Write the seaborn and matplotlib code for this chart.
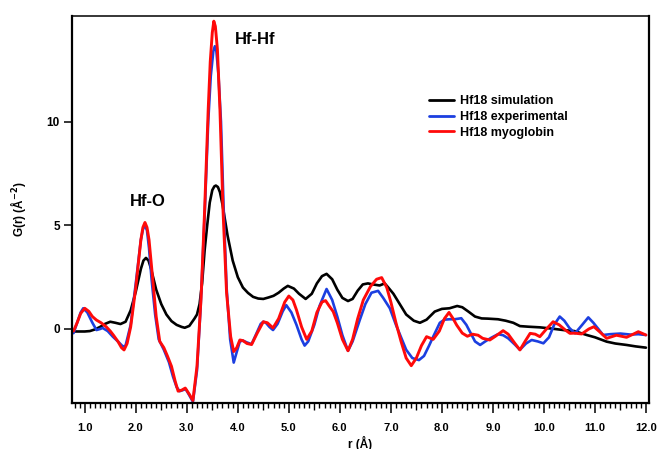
import numpy as np
import pandas as pd
import matplotlib
matplotlib.use("Agg")
import matplotlib.pyplot as plt
from matplotlib.ticker import MultipleLocator, FixedLocator
import seaborn as sns

# ---- data ----
r_sim = [0.78, 0.9, 1.0, 1.1, 1.2, 1.3, 1.4, 1.5, 1.6, 1.7, 1.8, 1.9, 2.0, 2.1, 2.15, 2.2,
         2.25, 2.3, 2.4, 2.5, 2.6, 2.7, 2.8, 2.9, 2.96, 3.05, 3.15, 3.2, 3.25, 3.3, 3.35,
         3.4, 3.45, 3.5, 3.54, 3.57, 3.61, 3.65, 3.7, 3.8, 3.9, 4.0, 4.1, 4.2, 4.3, 4.4, 4.5,
         4.6, 4.7, 4.8, 4.9, 4.98, 5.1, 5.2, 5.33, 5.45, 5.55, 5.65, 5.74, 5.85, 5.95, 6.05,
         6.16, 6.25, 6.35, 6.45, 6.55, 6.65, 6.78, 6.88, 6.95, 7.05, 7.15, 7.3, 7.45, 7.57,
         7.7, 7.86, 8.0, 8.15, 8.3, 8.4, 8.52, 8.65, 8.78, 8.9, 9.1, 9.25, 9.4, 9.53, 9.7,
         9.92, 10.15, 10.38, 10.6, 10.84, 11.0, 11.23, 11.4, 11.62, 11.8, 12.0]
g_sim = [-0.12, -0.12, -0.12, -0.1, -0.02, 0.1, 0.25, 0.35, 0.3, 0.24, 0.35, 0.9, 1.8, 2.9,
         3.3, 3.43, 3.3, 2.9, 1.9, 1.2, 0.7, 0.38, 0.2, 0.1, 0.06, 0.15, 0.5, 0.7, 1.2, 2.2,
         3.8, 5.0, 6.1, 6.7, 6.88, 6.92, 6.85, 6.6, 6.0, 4.5, 3.3, 2.5, 2.0, 1.74, 1.55,
         1.47, 1.45, 1.52, 1.6, 1.75, 1.95, 2.08, 1.95, 1.7, 1.45, 1.7, 2.2, 2.55, 2.66, 2.4,
         1.9, 1.5, 1.35, 1.45, 1.85, 2.15, 2.2, 2.15, 2.1, 2.2, 2.0, 1.7, 1.3, 0.7, 0.4, 0.3,
         0.45, 0.84, 0.97, 1.0, 1.11, 1.05, 0.84, 0.6, 0.51, 0.5, 0.47, 0.4, 0.3, 0.14, 0.11,
         0.08, 0.02, -0.05, -0.1, -0.29, -0.4, -0.61, -0.7, -0.77, -0.84, -0.9]

r_exp = [0.78, 0.85, 0.92, 0.97, 1.05, 1.15, 1.23, 1.3, 1.35, 1.45, 1.55, 1.65, 1.75, 1.8,
         1.9, 2.0, 2.1, 2.14, 2.18, 2.22, 2.26, 2.31, 2.38, 2.45, 2.55, 2.65, 2.73, 2.8, 2.86,
         2.92, 2.98, 3.05, 3.12, 3.2, 3.27, 3.35, 3.42, 3.47, 3.52, 3.55, 3.58, 3.62, 3.67,
         3.72, 3.78, 3.85, 3.92, 3.98, 4.04, 4.1, 4.18, 4.27, 4.35, 4.45, 4.5, 4.55, 4.62,
         4.69, 4.78, 4.88, 4.95, 5.05, 5.15, 5.25, 5.31, 5.38, 5.5, 5.6, 5.74, 5.85, 5.95,
         6.05, 6.16, 6.25, 6.39, 6.5, 6.62, 6.75, 6.85, 6.98, 7.1, 7.2, 7.3, 7.42, 7.55, 7.65,
         7.75, 7.83, 7.96, 8.05, 8.15, 8.25, 8.38, 8.48, 8.55, 8.65, 8.75, 8.85, 8.97, 9.1,
         9.2, 9.3, 9.43, 9.53, 9.65, 9.76, 9.88, 9.99, 10.1, 10.2, 10.31, 10.4, 10.5, 10.61,
         10.75, 10.87, 10.97, 11.1, 11.16, 11.3, 11.5, 11.7, 11.85, 12.0]
g_exp = [-0.2, 0.3, 0.8, 1.0, 0.8, 0.3, -0.05, 0.0, 0.05, -0.1, -0.37, -0.6, -0.85, -0.8,
         0.2, 2.2, 4.3, 4.8, 5.02, 4.75, 3.9, 2.4, 0.7, -0.5, -1.0, -1.6, -2.3, -2.8, -3.0,
         -2.95, -2.9, -3.2, -3.51, -2.0, 1.0, 5.5, 10.0, 12.2, 13.4, 13.64, 13.4, 12.3, 10.0,
         6.0, 2.0, -0.5, -1.62, -1.1, -0.6, -0.56, -0.65, -0.73, -0.3, 0.25, 0.35, 0.3, 0.1,
         -0.05, 0.25, 0.85, 1.15, 0.8, 0.2, -0.5, -0.8, -0.6, 0.2, 1.1, 1.93, 1.4, 0.6, -0.3,
         -1.05, -0.6, 0.43, 1.2, 1.75, 1.84, 1.5, 1.0, 0.2, -0.4, -1.0, -1.4, -1.5, -1.3, -0.8,
         -0.37, 0.3, 0.45, 0.47, 0.47, 0.52, 0.2, -0.13, -0.6, -0.77, -0.6, -0.42, -0.25,
         -0.3, -0.45, -0.75, -1.0, -0.7, -0.53, -0.6, -0.69, -0.4, 0.2, 0.6, 0.4, 0.05, -0.21,
         0.2, 0.56, 0.3, -0.1, -0.29, -0.25, -0.22, -0.27, -0.25, -0.29]

r_myo = [0.78, 0.85, 0.92, 1.0, 1.08, 1.15, 1.23, 1.32, 1.42, 1.5, 1.56, 1.65, 1.72, 1.77,
         1.83, 1.9, 2.0, 2.1, 2.14, 2.18, 2.22, 2.26, 2.34, 2.4, 2.47, 2.55, 2.62, 2.7, 2.77,
         2.83, 2.9, 2.97, 3.05, 3.12, 3.2, 3.28, 3.35, 3.42, 3.46, 3.5, 3.53, 3.56, 3.6, 3.65,
         3.71, 3.78, 3.86, 3.92, 3.98, 4.04, 4.1, 4.18, 4.27, 4.38, 4.5, 4.58, 4.69, 4.8, 4.92,
         5.0, 5.08, 5.15, 5.25, 5.35, 5.45, 5.55, 5.65, 5.72, 5.8, 5.87, 5.95, 6.05, 6.16,
         6.25, 6.35, 6.46, 6.6, 6.72, 6.82, 6.92, 7.0, 7.1, 7.2, 7.3, 7.4, 7.5, 7.6, 7.7,
         7.83, 7.95, 8.05, 8.14, 8.22, 8.29, 8.4, 8.5, 8.6, 8.71, 8.8, 8.94, 9.05, 9.2, 9.3,
         9.43, 9.53, 9.63, 9.73, 9.83, 9.92, 10.05, 10.18, 10.3, 10.42, 10.51, 10.6, 10.74,
         10.88, 10.98, 11.1, 11.23, 11.42, 11.62, 11.75, 11.85, 12.0]
g_myo = [-0.1, 0.3, 0.75, 1.0, 0.85, 0.6, 0.43, 0.3, 0.11, -0.1, -0.29, -0.6, -0.9, -1.01,
         -0.7, 0.1, 2.0, 4.3, 4.9, 5.14, 4.9, 4.3, 2.2, 0.6, -0.6, -0.9, -1.3, -1.8, -2.5,
         -3.0, -2.95, -2.85, -3.15, -3.45, -1.8, 1.5, 5.75, 10.6, 12.9, 14.3, 14.85, 14.6,
         13.5, 10.6, 5.75, 1.74, -0.37, -1.09, -0.9, -0.53, -0.56, -0.7, -0.75, -0.2, 0.35,
         0.3, 0.05, 0.5, 1.3, 1.59, 1.4, 0.92, 0.1, -0.5, -0.1, 0.8, 1.3, 1.37, 1.08, 0.84,
         0.3, -0.5, -1.05, -0.5, 0.5, 1.4, 2.05, 2.4, 2.48, 2.0, 1.3, 0.3, -0.6, -1.4, -1.77,
         -1.4, -0.8, -0.37, -0.5, -0.1, 0.5, 0.8, 0.5, 0.19, -0.2, -0.35, -0.25, -0.3, -0.45,
         -0.53, -0.35, -0.08, -0.25, -0.69, -1.01, -0.6, -0.21, -0.25, -0.37, 0.0, 0.35, 0.2,
         -0.05, -0.21, -0.2, -0.24, 0.0, 0.11, -0.15, -0.45, -0.3, -0.4, -0.25, -0.13, -0.29]

series_names = ["Hf18 simulation", "Hf18 experimental", "Hf18 myoglobin"]
series_colors = ["#000000", "#1c3fe0", "#ff0a0a"]
x_ticks = [1.0, 2.0, 3.0, 4.0, 5.0, 6.0, 7.0, 8.0, 9.0, 10.0, 11.0, 12.0]
y_ticks = [0, 5, 10]

frames = []
for name, rr, gg in zip(series_names, [r_sim, r_exp, r_myo], [g_sim, g_exp, g_myo]):
    frames.append(pd.DataFrame({"r": rr, "G": gg, "series": name}))
df = pd.concat(frames, ignore_index=True)

sns.set_style("ticks")
plt.rcParams["font.family"] = ["Liberation Sans", "DejaVu Sans"]
plt.rcParams["font.weight"] = "bold"
plt.rcParams["text.color"] = "black"
plt.rcParams["axes.labelcolor"] = "black"
plt.rcParams["xtick.color"] = "black"
plt.rcParams["ytick.color"] = "black"

fig = plt.figure(figsize=(6.59, 4.49), dpi=100)
ax = fig.add_axes([72 / 659, 46 / 449, 577 / 659, 387 / 449])

widths = [1.9, 1.9, 2.1]
for name, col, lw in zip(series_names, series_colors, widths):
    sub = df[df["series"] == name]
    sns.lineplot(data=sub, x="r", y="G", color=col, lw=lw, ax=ax,
                 sort=False, estimator=None, label=name)

ax.set_xlim(0.75, 12.06)
ax.set_ylim(-3.57, 15.1)

ax.xaxis.set_major_locator(FixedLocator(x_ticks))
ax.set_xticklabels([f"{v:.1f}" for v in x_ticks])
ax.xaxis.set_minor_locator(MultipleLocator(0.1))
ax.yaxis.set_major_locator(FixedLocator(y_ticks))
ax.set_yticklabels([str(v) for v in y_ticks])

ax.tick_params(axis="x", which="major", direction="out", length=7.2, width=1.1,
               labelsize=8, pad=7, colors="black")
ax.tick_params(axis="x", which="minor", direction="out", length=3.4, width=1.0,
               colors="black")
ax.tick_params(axis="y", which="major", direction="out", length=5.8, width=1.1,
               labelsize=8.5, pad=3, colors="black")
for lab in ax.get_xticklabels() + ax.get_yticklabels():
    lab.set_fontweight("bold")
    lab.set_color("black")

# medium ticks at the half-integers
minor_locs = ax.xaxis.get_minorticklocs()
minor_ticks = ax.xaxis.get_minor_ticks(len(minor_locs))
for loc, t in zip(minor_locs, minor_ticks):
    if abs(loc * 2 - round(loc * 2)) < 1e-6:
        t.tick1line.set_markersize(5.2)

for side in ["left", "bottom", "right"]:
    ax.spines[side].set_visible(True)
    ax.spines[side].set_linewidth(1.6)
    ax.spines[side].set_color("black")
ax.spines["top"].set_visible(True)
ax.spines["top"].set_linewidth(1.1)
ax.spines["top"].set_color("black")

ax.set_xlabel("r (Å)", fontsize=8.5, fontweight="bold", labelpad=2, color="black")
ax.set_ylabel("G(r) (Å$^{\\mathbf{-2}}$)", fontsize=8.5, fontweight="bold", labelpad=13,
              color="black")

ax.text(3.94, 13.96, "Hf-Hf", fontsize=12, fontweight="bold", ha="left", va="center",
        color="black")
ax.text(1.88, 6.13, "Hf-O", fontsize=12, fontweight="bold", ha="left", va="center",
        color="black")

leg = ax.legend(loc="center left", bbox_to_anchor=((423 - 72) / 577, (403 - 117) / 387),
                frameon=False, borderpad=0, handlelength=2.0, handletextpad=0.5,
                labelspacing=0.3, prop={"weight": "bold", "size": 9})
for line in leg.get_lines():
    line.set_linewidth(2.0)
for txt in leg.get_texts():
    txt.set_color("black")

fig.savefig("out.png", dpi=100)
